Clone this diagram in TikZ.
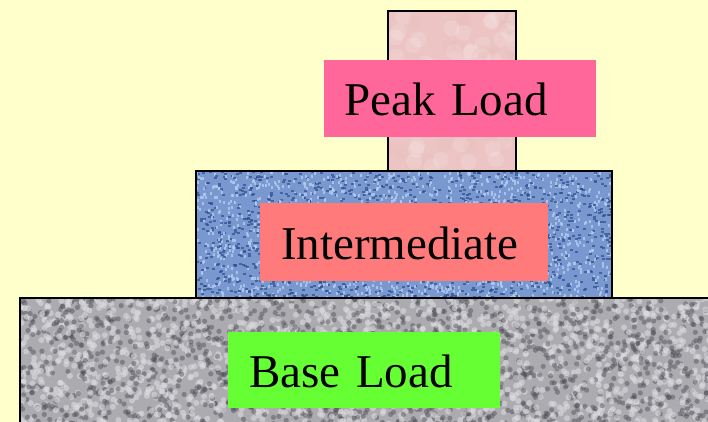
\documentclass[tikz,border=0pt]{standalone}
\usepackage{fontspec}
\setmainfont{Liberation Serif}
\definecolor{bg}{HTML}{FFFFCC}
\definecolor{pkfill}{HTML}{FF6699}
\definecolor{imfill}{HTML}{FF7B7B}
\definecolor{bsfill}{HTML}{66FF33}
\definecolor{pinktex}{HTML}{ECC4C4}
\definecolor{bluetex}{HTML}{7A98D0}
\definecolor{bluedark}{HTML}{2E4E8E}
\definecolor{bluelight}{HTML}{B4CCF0}
\definecolor{graytex}{HTML}{ABABB0}
\definecolor{graydark}{HTML}{4A4A52}
\definecolor{graylight}{HTML}{DCDCE0}
\begin{document}
\begin{tikzpicture}[x=1pt,y=-1pt,
  lbl/.style={anchor=north west, inner ysep=0pt, align=left, font=\fontsize{47}{54}\selectfont, text=black},
  border/.style={draw=black, line width=2.2pt}]
\useasboundingbox (0,0) rectangle (708,422);
\fill[bg] (0,0) rectangle (708,422);
\pgfmathsetseed{12345}
% pink column
\begin{scope}
\clip (388,11) rectangle (516,171);
\fill[pinktex] (388,11) rectangle (516,171);
\foreach \i in {1,...,60}{
  \pgfmathsetmacro\px{388+128*rnd}
  \pgfmathsetmacro\py{11+160*rnd}
  \fill[white!80!pinktex, opacity=0.18] (\px,\py) circle (8);
  \pgfmathsetmacro\qx{388+128*rnd}
  \pgfmathsetmacro\qy{11+160*rnd}
  \fill[pinktex!80!brown, opacity=0.12] (\qx,\qy) circle (7);
}
\end{scope}
\draw[border] (388,11) rectangle (516,171);
% blue block
\begin{scope}
\clip (196,171) rectangle (612,298);
\fill[bluetex] (196,171) rectangle (612,298);
\foreach \i in {1,...,1400}{
  \pgfmathsetmacro\px{196+416*rnd}
  \pgfmathsetmacro\py{171+127*rnd}
  \fill[bluedark, opacity=0.7] (\px,\py) rectangle ++(3,2);
  \pgfmathsetmacro\qx{196+416*rnd}
  \pgfmathsetmacro\qy{171+127*rnd}
  \fill[bluelight, opacity=0.8] (\qx,\qy) rectangle ++(2,3);
}
\end{scope}
\draw[border] (196,171) rectangle (612,298);
% gray block
\begin{scope}
\clip (20,298) rectangle (712,426);
\fill[graytex] (20,298) rectangle (712,426);
\foreach \i in {1,...,1500}{
  \pgfmathsetmacro\px{20+690*rnd}
  \pgfmathsetmacro\py{298+128*rnd}
  \fill[graydark, opacity=0.45] (\px,\py) circle (2.6);
  \pgfmathsetmacro\qx{20+690*rnd}
  \pgfmathsetmacro\qy{298+128*rnd}
  \fill[graylight, opacity=0.6] (\qx,\qy) circle (3);
}
\end{scope}
\draw[border] (712,298) -- (20,298) -- (20,426);
% labels
\node[lbl, fill=pkfill, inner xsep=20pt, text width=232pt, text height=55pt, text depth=22pt] (peak) at (324,60) {Peak Load};
\node[lbl, fill=imfill, inner xsep=21pt, text width=246pt, text height=56pt, text depth=22pt] (inter) at (260,203) {Intermediate};
\node[lbl, fill=bsfill, inner xsep=21pt, text width=230pt, text height=55pt, text depth=21pt] (base) at (228,332) {Base Load};
\end{tikzpicture}
\end{document}
